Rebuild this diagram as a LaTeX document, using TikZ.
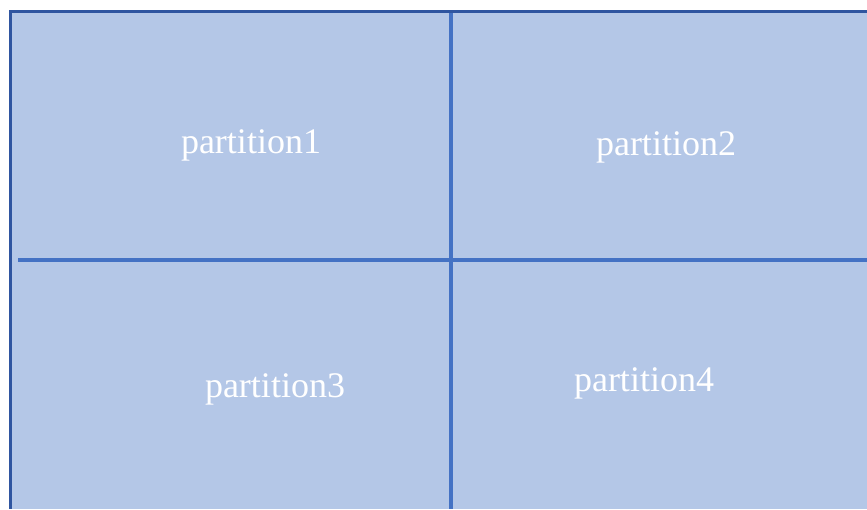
\documentclass[tikz,border=0pt]{standalone}
\usepackage{fontspec}
\setmainfont{Liberation Serif}
\definecolor{cellfill}{HTML}{B4C7E7}
\definecolor{outerline}{HTML}{2F55A0}
\definecolor{innerline}{HTML}{4472C4}
\begin{document}
\begin{tikzpicture}[x=1pt,y=-1pt,
  lbl/.style={text=white,font=\fontsize{36}{42}\selectfont,inner sep=0pt},
  outer/.style={draw=outerline,line width=3.4pt},
  inner/.style={draw=innerline,line width=3.2pt}]
\useasboundingbox (0,0) rectangle (867,509);
\fill[white] (0,0) rectangle (867,509);
\fill[cellfill] (10,11) rectangle (867,509);
\coordinate (tl) at (10.5,11.5);
\coordinate (tr) at (867,11.5);
\coordinate (bl) at (10.5,509);
\coordinate (vt) at (451,11);
\coordinate (vb) at (451,509);
\coordinate (hl) at (18,260);
\coordinate (hr) at (867,260);
\draw[inner] (vt) -- (vb);
\draw[inner] (hl) -- (hr);
\draw[outer] (tr) -- (tl) -- (bl);
\node[lbl] (p1) at (251,145) {partition1};
\node[lbl] (p2) at (666,147) {partition2};
\node[lbl] (p3) at (275,389) {partition3};
\node[lbl] (p4) at (644,383) {partition4};
\end{tikzpicture}
\end{document}
